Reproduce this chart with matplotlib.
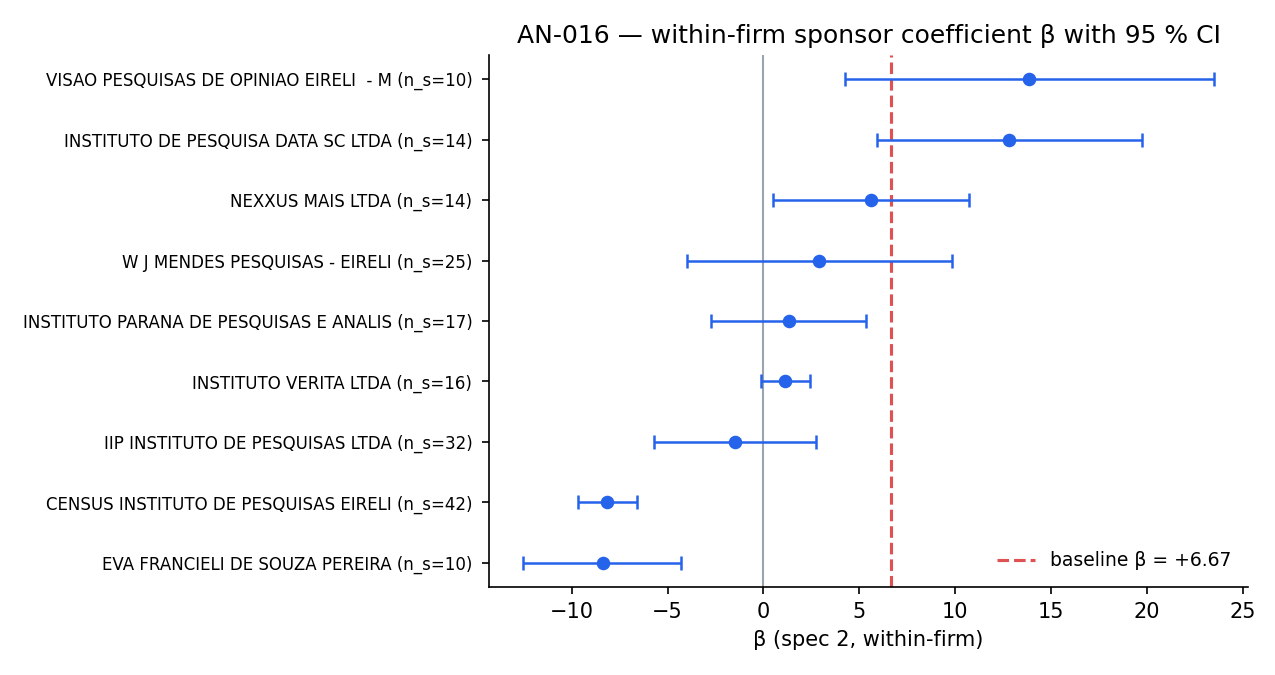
import matplotlib
matplotlib.use("Agg")
import matplotlib.pyplot as plt
import numpy as np

# firms listed top to bottom
firms = [
    "VISAO PESQUISAS DE OPINIAO EIRELI  - M",
    "INSTITUTO DE PESQUISA DATA SC LTDA",
    "NEXXUS MAIS LTDA",
    "W J MENDES PESQUISAS - EIRELI",
    "INSTITUTO PARANA DE PESQUISAS E ANALIS",
    "INSTITUTO VERITA LTDA",
    "IIP INSTITUTO DE PESQUISAS LTDA",
    "CENSUS INSTITUTO DE PESQUISAS EIRELI",
    "EVA FRANCIELI DE SOUZA PEREIRA",
]
n_s = [10, 14, 14, 25, 17, 16, 32, 42, 10]
beta = [13.86, 12.83, 5.61, 2.91, 1.31, 1.12, -1.49, -8.14, -8.38]
ci_lo = [4.27, 5.93, 0.51, -3.97, -2.72, -0.10, -5.73, -9.67, -12.51]
ci_hi = [23.48, 19.73, 10.72, 9.83, 5.33, 2.41, 2.73, -6.61, -4.31]
baseline = 6.67

beta = np.array(beta)
lo = beta - np.array(ci_lo)
hi = np.array(ci_hi) - beta
labels = [f"{f} (n_s={n})" for f, n in zip(firms, n_s)]
y = np.arange(len(firms))[::-1]

fig, ax = plt.subplots(figsize=(8.5, 4.5), dpi=150)
ax.axvline(0, color="#9ca3af", lw=1.0, zorder=1)
ax.errorbar(beta, y, xerr=[lo, hi], fmt="o", color="#2563eb", ms=5.5,
            lw=1.2, capsize=3.5, capthick=1.2, zorder=3)
ax.axvline(baseline, color="#d62728", ls="--", lw=1.5, alpha=0.8,
           label=f"baseline β = {baseline:+.2f}", zorder=2)

ax.set_yticks(y)
ax.set_yticklabels(labels, fontsize=8)
ax.tick_params(axis="y", pad=4.5)
ax.set_xlabel("β (spec 2, within-firm)")
ax.set_title("AN-016 — within-firm sponsor coefficient β with 95 % CI",
             fontsize=12)
ax.legend(loc="lower right", frameon=False, fontsize=9)
ax.spines["top"].set_visible(False)
ax.spines["right"].set_visible(False)

fig.subplots_adjust(left=0.3835, right=0.979, top=0.9185, bottom=0.1304)
fig.savefig("out.png", dpi=150)
